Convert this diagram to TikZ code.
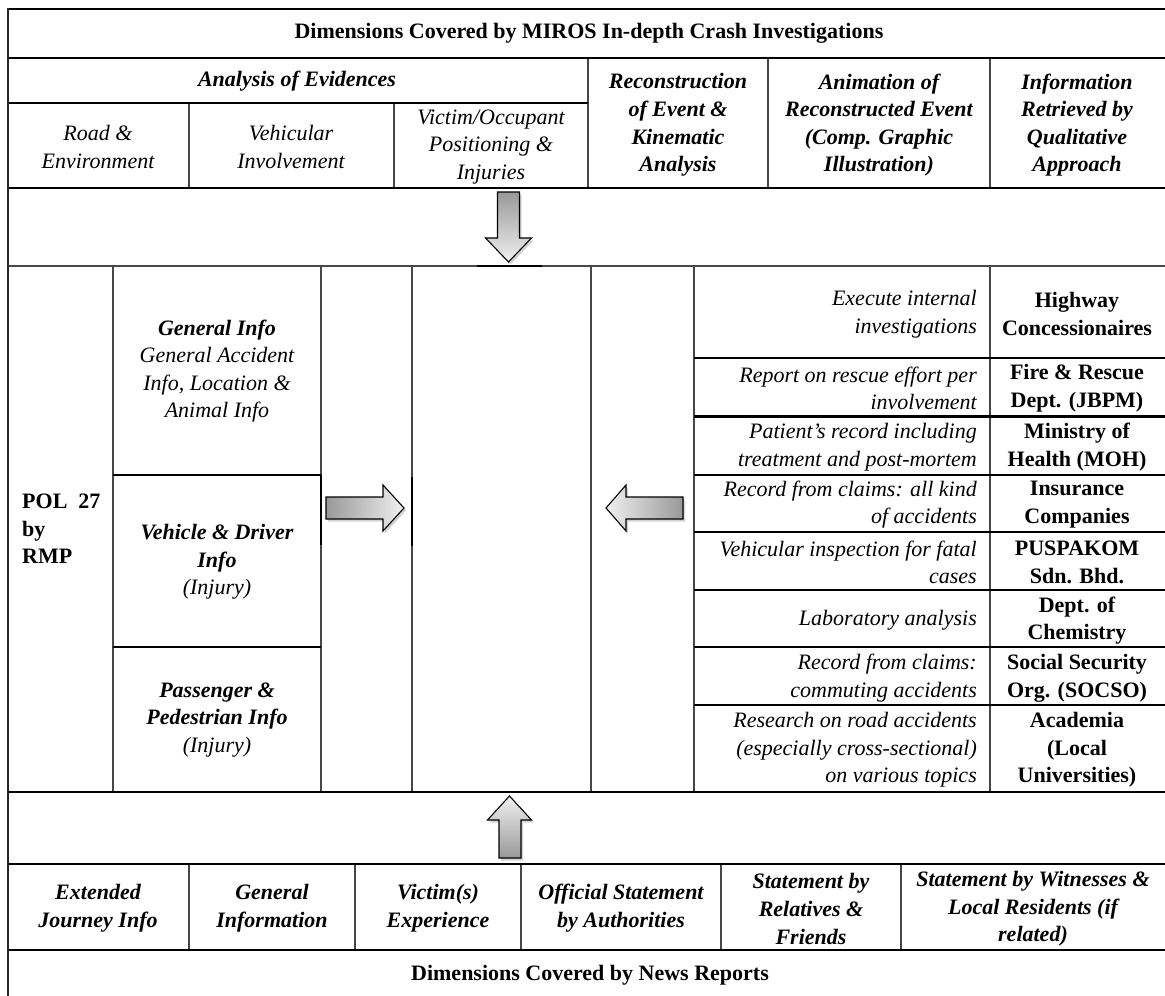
\documentclass[tikz,border=0pt]{standalone}
\usepackage{fontspec}
\setmainfont{Liberation Serif}
\usetikzlibrary{shadows}
\newcommand{\fsz}{\fontsize{22}{27.6}\selectfont}
\begin{document}
\begin{tikzpicture}[x=1pt,y=-1pt,
  thinl/.style={draw=black!72,line width=1.3pt},
  thickl/.style={draw=black,line width=2.6pt},
  tx/.style={font=\fsz\itshape,align=center,inner sep=0pt},
  hb/.style={font=\fsz\bfseries\itshape,align=center,inner sep=0pt},
  bu/.style={font=\fsz\bfseries,align=center,inner sep=0pt},
  rd/.style={font=\fsz\itshape,align=right,inner sep=0pt,anchor=east},
  blockarrow/.style={draw=black,line width=1.1pt,line join=miter,
    drop shadow={shadow xshift=2pt,shadow yshift=-2.5pt,opacity=0.35}}]
\useasboundingbox (0,0) rectangle (1165,996);
\fill[white] (0,0) rectangle (1165,996);

% ---------- thin grey lines ----------
\draw[thinl] (189,103) -- (189,188);
\draw[thinl] (394,103) -- (394,188);
\draw[thinl] (588,58) -- (588,188);
\draw[thinl] (768,58) -- (768,188);
\draw[thinl] (990,58) -- (990,188);
\draw[thinl] (8,266) -- (1165,266);
\foreach \xx in {113,321,412,591,694,990} \draw[thinl] (\xx,266) -- (\xx,792);
\foreach \xx in {189,355,521,721,901} \draw[thinl] (\xx,864) -- (\xx,950);

% ---------- thick black lines ----------
\draw[thickl] (8,9) -- (1165,9);
\draw[thickl] (8,58) -- (1165,58);
\draw[thickl] (8,103) -- (588,103);
\draw[thickl] (8,188) -- (1165,188);
\draw[thickl] (477,266) -- (542,266);
\draw[thickl] (113,475) -- (321,475);
\draw[thickl] (113,647) -- (321,647);
\draw[thickl] (321,475) -- (321,545);
\draw[thickl] (412,477) -- (412,546);
\foreach \yy in {358,416.5,475,532,590,647,705} \draw[thickl] (694,\yy) -- (1165,\yy);
\draw[thickl] (8,792) -- (1165,792);
\draw[thickl] (8,864) -- (1165,864);
\draw[thickl] (8,950) -- (1165,950);
\draw[draw=black!85,line width=1.8pt] (8,8) -- (8,996);

% ---------- block arrows ----------
\path[blockarrow,top color=black!40,bottom color=black!6]
  (497.5,192) -- (519.5,192) -- (519.5,238) -- (531.5,238) -- (508.5,262)
  -- (485.5,238) -- (497.5,238) -- cycle;
\path[blockarrow,left color=black!40,right color=black!6]
  (326,497) -- (383,497) -- (383,485) -- (404,508) -- (383,531) -- (383,519)
  -- (326,519) -- cycle;
\path[blockarrow,left color=black!6,right color=black!40]
  (683,497) -- (626,497) -- (626,485) -- (606,508) -- (626,531) -- (626,519)
  -- (683,519) -- cycle;
\path[blockarrow,bottom color=black!40,top color=black!6]
  (499,858) -- (521,858) -- (521,820) -- (531.5,820) -- (509.5,796)
  -- (487.5,820) -- (499,820) -- cycle;

% ---------- top header ----------
\node[bu] (title) at (589,33) {Dimensions Covered by MIROS In-depth Crash Investigations};
\node[hb] (analysis) at (297,81) {Analysis of Evidences};
\node[tx] (road) at (98,147) {Road \&\\Environment};
\node[tx] (vehic) at (291,147) {Vehicular\\Involvement};
\node[tx] (victim) at (491,147) {Victim/Occupant\\Positioning \&\\Injuries};
\node[hb] (recon) at (678,125) {Reconstruction\\of Event \&\\Kinematic\\Analysis};
\node[hb] (anim) at (879,125) {Animation of\\Reconstructed Event\\(Comp. Graphic\\Illustration)};
\node[hb] (info) at (1077,125) {Information\\Retrieved by\\Qualitative\\Approach};

% ---------- left block ----------
\node[bu,align=left,anchor=west] (pol) at (22,529) {POL\enspace 27\\by\\RMP};
\node[tx] (geninfo) at (217,371) {\textbf{General Info}\\General Accident\\Info, Location \&\\Animal Info};
\node[tx] (vehdrv) at (217,562) {\textbf{Vehicle \& Driver}\\\textbf{Info}\\(Injury)};
\node[tx] (pass) at (217,720) {\textbf{Passenger \&}\\\textbf{Pedestrian Info}\\(Injury)};

% ---------- right block ----------
\node[rd] (d1) at (977,314) {Execute internal\\investigations};
\node[bu] (o1) at (1077,314) {Highway\\Concessionaires};
\node[rd] (d2) at (977,388.5) {Report on rescue effort per\\involvement};
\node[bu] (o2) at (1077,388.5) {Fire \& Rescue\\Dept. (JBPM)};
\node[rd] (d3) at (977,447) {Patient's record including\\treatment and post-mortem};
\node[bu] (o3) at (1077,447) {Ministry of\\Health (MOH)};
\node[rd] (d4) at (977,504.5) {Record from claims: all kind\\of accidents};
\node[bu] (o4) at (1077,504.5) {Insurance\\Companies};
\node[rd] (d5) at (977,562.5) {Vehicular inspection for fatal\\cases};
\node[bu] (o5) at (1077,562.5) {PUSPAKOM\\Sdn. Bhd.};
\node[rd] (d6) at (977,620) {Laboratory analysis};
\node[bu] (o6) at (1077,620.5) {Dept. of\\Chemistry};
\node[rd] (d7) at (977,678) {Record from claims:\\commuting accidents};
\node[bu] (o7) at (1077,678) {Social Security\\Org. (SOCSO)};
\node[rd] (d8) at (977,750) {Research on road accidents\\(especially cross-sectional)\\on various topics};
\node[bu] (o8) at (1077,750) {Academia\\(Local\\Universities)};

% ---------- bottom ----------
\node[hb] (ext) at (98,908) {Extended\\Journey Info};
\node[hb] (geninf) at (272,908) {General\\Information};
\node[hb] (vict) at (438,908) {Victim(s)\\Experience};
\node[hb] (offic) at (621,908) {Official Statement\\by Authorities};
\node[hb] (rel) at (811,909) {Statement by\\Relatives \&\\Friends};
\node[hb] (wit) at (1033,909) {Statement by Witnesses \&\\Local Residents (if\\related)};
\node[bu] (news) at (590,975) {Dimensions Covered by News Reports};
\end{tikzpicture}
\end{document}
